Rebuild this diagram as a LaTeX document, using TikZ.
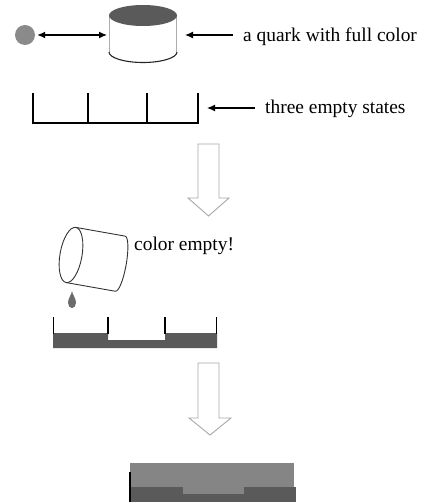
\documentclass[tikz,border=0pt]{standalone}
\usepackage{fontspec}
\setmainfont{Liberation Serif}
\usetikzlibrary{arrows.meta}
\definecolor{darkfill}{HTML}{5A5A5A}
\definecolor{midfill}{HTML}{858585}
\definecolor{dotgray}{HTML}{8A8A8A}
\definecolor{hollowline}{HTML}{A8A8A8}
\begin{document}
\begin{tikzpicture}[x=1bp,y=-1bp,
  lbl/.style={anchor=base west,inner sep=0pt,font=\fontsize{19.5}{22}\selectfont},
  arr/.style={line width=1.2bp,-{Latex[length=8bp,width=7bp]}},
  darr/.style={line width=1.2bp,{Latex[length=8bp,width=7bp]}-{Latex[length=8bp,width=7bp]}},
  boxline/.style={line width=1.3bp,black},
  hollow/.style={draw=hollowline,line width=0.9bp,fill=white,line join=miter},
  frame/.style={inner sep=0pt,outer sep=0pt,draw=none}]
\useasboundingbox (0,0) rectangle (427,502);

% ---- full-colour quark ----
\node[circle,fill=dotgray,minimum size=20bp,inner sep=0pt] (dot) at (25,35) {};
\node[frame,minimum width=68bp,minimum height=60bp] (cyl) at (143,35) {};
\fill[white] (109,15.5) -- (109,52) arc[start angle=180,end angle=0,x radius=34,y radius=10.5] -- (177,15.5) -- cycle;
\draw[gray!65,line width=1.6bp] (109.5,15.5) -- (109.5,52);
\draw[gray!65,line width=1.6bp] (176.5,15.5) -- (176.5,52);
\draw[black!85,line width=1.1bp] (109,52) arc[start angle=180,end angle=0,x radius=34,y radius=10.5];
\fill[darkfill] (143,15.5) ellipse[x radius=34,y radius=10.5];
\draw[darr,shorten <=2bp,shorten >=2bp] (dot) -- (cyl.west);

\node[lbl] (lab1) at (243,42) {a quark with full color};
\draw[arr,shorten <=10bp,shorten >=8bp] (lab1.west |- cyl.east) -- (cyl.east);

% ---- three empty states ----
\node[frame,minimum width=165bp,minimum height=30bp] (states1) at (115.5,108) {};
\draw[boxline] (states1.north west) -- (states1.south west) -- (states1.south east) -- (states1.north east);
\draw[boxline] (88,93) -- (88,123);
\draw[boxline] (147,93) -- (147,123);
\node[lbl] (lab2) at (265,114) {three empty states};
\draw[arr,shorten <=10bp,shorten >=9bp] (lab2.west |- states1.east) -- (states1.east);

% ---- hollow arrow 1 ----
\draw[hollow] (198,144) -- (219,144) -- (219,198) -- (229,198) -- (208.5,216) -- (188,198) -- (198,198) -- cycle;

% ---- tilted cylinder, pouring ----
\begin{scope}[shift={(71,255)},rotate=-10]
  \draw[black!80,line width=0.9bp] (0,-28) -- (50,-28) arc[start angle=-90,end angle=90,x radius=6,y radius=28] -- (0,28);
  \draw[black!80,line width=0.9bp] (0,0) ellipse[x radius=11,y radius=28];
\end{scope}
\node[frame,minimum width=68bp,minimum height=62bp] (pour) at (91,253) {};
\fill[darkfill!90] (72,291) .. controls (71.5,295) and (68,298) .. (68,303)
  .. controls (68,306) and (70,308) .. (72,308)
  .. controls (74,308) and (76,306) .. (76,303)
  .. controls (76,298) and (72.5,295) .. (72,291) -- cycle;
\node[lbl] (lab3) at (134,250) {color empty!};

% ---- states after emptying ----
\node[frame,minimum width=164bp,minimum height=31bp] (states2) at (135,332.5) {};
\fill[darkfill] (53,333) -- (108,333) -- (108,340) -- (165,340) -- (165,333) -- (217,333) -- (217,348) -- (53,348) -- cycle;
\draw[boxline] (53.5,317) -- (53.5,334);
\draw[boxline] (108,317) -- (108,334);
\draw[boxline] (165,317) -- (165,334);
\draw[boxline] (216.5,317) -- (216.5,334);

% ---- hollow arrow 2 ----
\draw[hollow] (198,363) -- (219,363) -- (219,418) -- (231,418) -- (210,435) -- (189,418) -- (198,418) -- cycle;

% ---- final state ----
\node[frame,minimum width=166bp,minimum height=38bp] (final) at (213,482) {};
\fill[midfill] (130,463) rectangle (294,487);
\fill[darkfill] (130,487) rectangle (296,502);
\fill[midfill] (183,486) rectangle (244,494);
\draw[black,line width=1.2bp] (130,472) -- (130,502);
\end{tikzpicture}
\end{document}
